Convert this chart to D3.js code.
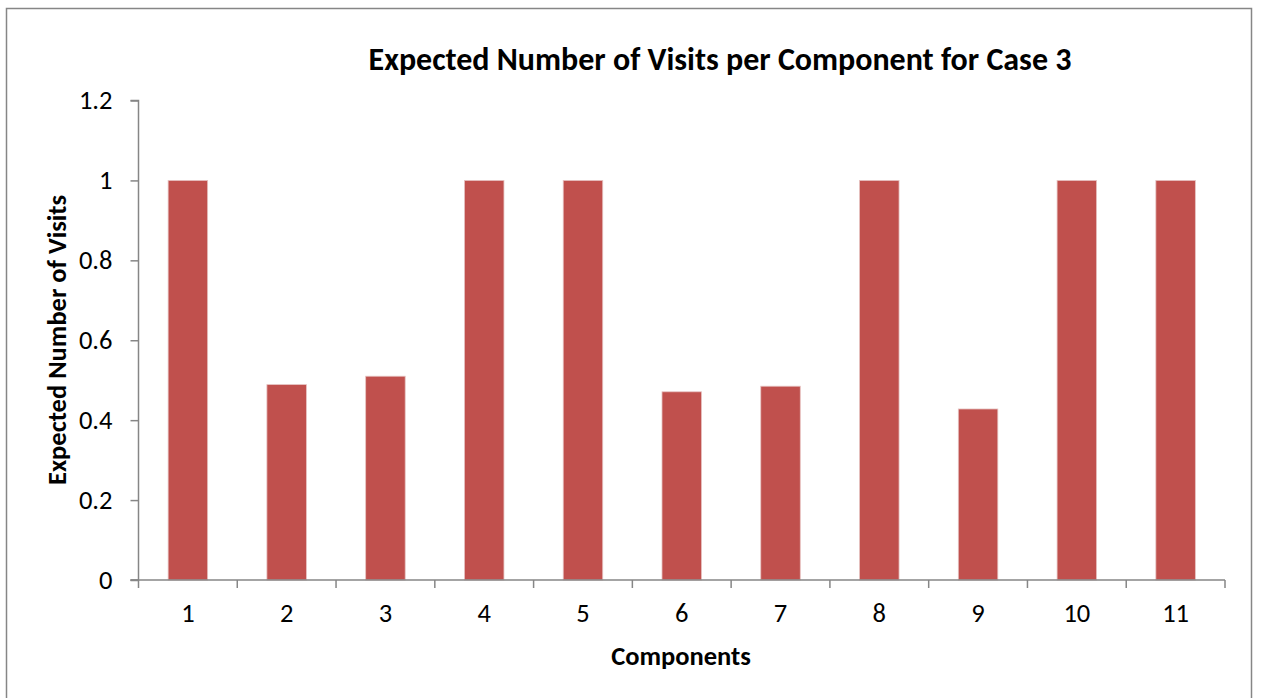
<!DOCTYPE html>
<html>
<head>
<meta charset="utf-8">
<script src="https://cdn.jsdelivr.net/npm/d3@7"></script>
<style>
  html, body { margin: 0; padding: 0; background: #fff; }
  svg { display: block; font-family: Carlito, Lato, "Open Sans", sans-serif; }
</style>
</head>
<body>
<svg id="chart" width="1261" height="698"></svg>
<script>
// Components on the x axis and their expected visit counts
const components = ["1", "2", "3", "4", "5", "6", "7", "8", "9", "10", "11"];
const expectedVisits = [1, 0.489, 0.51, 1, 1, 0.471, 0.485, 1, 0.428, 1, 1];
const yTicks = [0, 0.2, 0.4, 0.6, 0.8, 1, 1.2];

const titleText = "Expected Number of Visits per Component for Case 3";
const xTitle = "Components";
const yTitle = "Expected Number of Visits";

const svg = d3.select("#chart");
const plot = { left: 138.5, right: 1225, top: 100.5, bottom: 580 };
const tickFont = 26.5, axisTitleFont = 26.5, titleFont = 32;

// Chart area frame
svg.append("rect")
  .attr("x", 6.5).attr("y", 8.5)
  .attr("width", 1245).attr("height", 700)
  .attr("fill", "#fff")
  .attr("stroke", "#868686").attr("stroke-width", 1.5);

const x = d3.scaleBand()
  .domain(components)
  .range([plot.left, plot.right])
  .paddingInner(0.6)
  .paddingOuter(0.3);

const y = d3.scaleLinear()
  .domain([0, 1.2])
  .range([plot.bottom, plot.top]);

// Bars
svg.append("g")
  .selectAll("rect")
  .data(components.map((c, i) => ({ c, v: expectedVisits[i] })))
  .join("rect")
  .attr("x", d => x(d.c))
  .attr("y", d => y(d.v))
  .attr("width", x.bandwidth())
  .attr("height", d => y(0) - y(d.v))
  .attr("fill", "#C0504D")
  .attr("stroke", "#e6c3c2")
  .attr("stroke-width", 0.8);

// Y axis
const yAxis = svg.append("g")
  .attr("transform", `translate(${plot.left},0)`)
  .call(d3.axisLeft(y).tickValues(yTicks).tickSize(8).tickPadding(18)
    .tickFormat(d => String(+d.toFixed(1))));
yAxis.attr("font-size", null).attr("font-family", null);
yAxis.select(".domain").attr("stroke", "#868686").attr("stroke-width", 1.5)
  .attr("d", `M-8,${plot.top}H0V${plot.bottom}H-8`);
yAxis.selectAll(".tick line").attr("stroke", "#868686").attr("stroke-width", 1.5);
yAxis.selectAll(".tick text")
  .style("font-size", tickFont + "px")
  .attr("fill", "#000");

// X axis: tick marks sit on the category boundaries
const xAxisG = svg.append("g").attr("transform", `translate(0,${plot.bottom})`);
xAxisG.append("line")
  .attr("x1", plot.left - 8).attr("x2", plot.right)
  .attr("stroke", "#868686").attr("stroke-width", 1.5);
const boundaries = components.map(c => x(c) - x.step() * x.paddingOuter());
boundaries.push(plot.right);
xAxisG.selectAll("line.tk")
  .data(boundaries)
  .join("line")
  .attr("class", "tk")
  .attr("x1", d => d).attr("x2", d => d)
  .attr("y1", 0).attr("y2", 8)
  .attr("stroke", "#868686").attr("stroke-width", 1.5);
xAxisG.selectAll("text")
  .data(components)
  .join("text")
  .attr("x", d => x(d) + x.bandwidth() / 2)
  .attr("y", 42)
  .attr("text-anchor", "middle")
  .style("font-size", tickFont + "px")
  .attr("fill", "#000")
  .text(d => d);

// Titles
svg.append("text")
  .attr("x", 720).attr("y", 70)
  .attr("text-anchor", "middle")
  .style("font-size", titleFont + "px").attr("font-weight", "bold")
  .text(titleText);

svg.append("text")
  .attr("x", 681).attr("y", 665)
  .attr("text-anchor", "middle")
  .style("font-size", axisTitleFont + "px").attr("font-weight", "bold")
  .text(xTitle);

svg.append("text")
  .attr("transform", "translate(66,340) rotate(-90)")
  .attr("text-anchor", "middle")
  .style("font-size", axisTitleFont + "px").attr("font-weight", "bold")
  .text(yTitle);
</script>
</body>
</html>
